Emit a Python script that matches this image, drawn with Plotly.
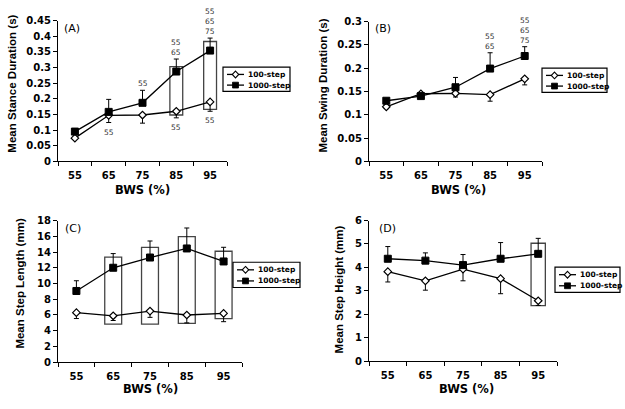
import plotly.graph_objects as go

# ---------------- data ----------------
bws = [55, 65, 75, 85, 95]
bws_labels = ["55", "65", "75", "85", "95"]
series_names = ["100-step", "1000-step"]

# (A) Mean stance duration (s)
stance_100 = [0.074, 0.147, 0.148, 0.160, 0.190]
stance_100_err = [0.003, 0.023, 0.026, 0.021, 0.030]
stance_1000 = [0.095, 0.158, 0.187, 0.287, 0.354]
stance_1000_err = [0.010, 0.040, 0.040, 0.040, 0.040]
stance_box_lo = [None, None, None, 0.148, 0.166]
stance_box_hi = [None, None, None, 0.303, 0.383]
stance_sig_above = ["", "", "55", "55<br>65", "55<br>65<br>75"]
stance_sig_below = ["", "55", "", "55", "55"]

# (B) Mean swing duration (s)
swing_100 = [0.117, 0.145, 0.146, 0.143, 0.177]
swing_100_err = [0.004, 0.004, 0.008, 0.014, 0.013]
swing_1000 = [0.130, 0.140, 0.159, 0.199, 0.226]
swing_1000_err = [0.004, 0.004, 0.021, 0.034, 0.020]
swing_box_lo = [None, None, None, None, None]
swing_box_hi = [None, None, None, None, None]
swing_sig_above = ["", "", "", "55<br>65", "55<br>65<br>75"]
swing_sig_below = ["", "", "", "", ""]

# (C) Mean step length (mm)
length_100 = [6.3, 5.9, 6.5, 6.0, 6.2]
length_100_err = [0.75, 0.6, 0.8, 1.0, 1.05]
length_1000 = [9.05, 12.0, 13.3, 14.45, 12.8]
length_1000_err = [1.3, 1.8, 2.1, 2.6, 1.8]
length_box_lo = [None, 4.85, 4.85, 4.93, 5.55]
length_box_hi = [None, 13.36, 14.6, 15.95, 14.1]
length_sig_above = ["", "", "", "", ""]
length_sig_below = ["", "", "", "", ""]

# (D) Mean step height (mm)
height_100 = [3.82, 3.43, 3.93, 3.52, 2.58]
height_100_err = [0.44, 0.40, 0.50, 0.64, 0.20]
height_1000 = [4.37, 4.29, 4.10, 4.37, 4.58]
height_1000_err = [0.52, 0.33, 0.45, 0.69, 0.66]
height_box_lo = [None, None, None, None, 2.37]
height_box_hi = [None, None, None, None, 5.03]
height_sig_above = ["", "", "", "", ""]
height_sig_below = ["", "", "", "", ""]

panel_labels = ["(A)", "(B)", "(C)", "(D)"]
y_titles = ["Mean Stance Duration (s)", "Mean Swing Duration (s)",
            "Mean Step Length (mm)", "Mean Step Height (mm)"]
x_title = "BWS (%)"
y_max = [0.45, 0.3, 18, 6]
y_step = [0.05, 0.05, 2, 1]

panels = [
    (stance_100, stance_100_err, stance_1000, stance_1000_err, stance_box_lo, stance_box_hi, stance_sig_above, stance_sig_below),
    (swing_100, swing_100_err, swing_1000, swing_1000_err, swing_box_lo, swing_box_hi, swing_sig_above, swing_sig_below),
    (length_100, length_100_err, length_1000, length_1000_err, length_box_lo, length_box_hi, length_sig_above, length_sig_below),
    (height_100, height_100_err, height_1000, height_1000_err, height_box_lo, height_box_hi, height_sig_above, height_sig_below),
]

# ---------------- layout geometry (pixels) ----------------
W, H = 625, 409
# plot boxes: (left, right, top, bottom)
boxes_px = [(58, 227, 15, 160), (369, 542, 16, 160), (58, 242, 221, 367), (369, 557, 221, 366)]
box_half = [1.9, 1.9, 2.3, 1.9]
ytitle_pos = [(12, 80), (323, 82), (20, 286), (339, 292)]
xtitle_pos = [(142, 190), (458, 190), (150, 395), (466, 395)]
plabel_pos = [(62, 14), (373, 14), (63, 220), (377, 220)]
# legend box: (left, top, width, height)
legend_box = [(223, 63, 67, 25), (542, 64, 65, 25), (233, 264, 67, 26), (555, 269, 65, 26)]

WIDE = "DejaVu Sans, Verdana, sans-serif"
NARROW = "Arial, Liberation Sans, sans-serif"


def px(xp):
    return xp / W


def py(yp):
    return 1 - yp / H


fig = go.Figure()
shapes = []
annotations = []

for i, (v100, e100, v1000, e1000, blo, bhi, sa, sb) in enumerate(panels):
    n = "" if i == 0 else str(i + 1)
    xa, ya = "x" + n, "y" + n
    fig.add_trace(go.Scatter(
        x=bws, y=v100, xaxis=xa, yaxis=ya, mode="lines+markers", name=series_names[0],
        line=dict(color="black", width=1.3),
        marker=dict(symbol="diamond", size=5.8, color="white", line=dict(color="black", width=1.2)),
        error_y=dict(type="data", symmetric=False, array=[0] * len(bws), arrayminus=e100,
                     color="black", thickness=1, width=2.5),
        showlegend=False))
    fig.add_trace(go.Scatter(
        x=bws, y=v1000, xaxis=xa, yaxis=ya, mode="lines+markers", name=series_names[1],
        line=dict(color="black", width=1.3),
        marker=dict(symbol="square", size=7, color="black", line=dict(color="black", width=1)),
        error_y=dict(type="data", symmetric=False, array=e1000, arrayminus=[0] * len(bws),
                     color="black", thickness=1, width=2.5),
        showlegend=False))

    # significance boxes and labels
    for k, xv in enumerate(bws):
        if blo[k] is not None:
            shapes.append(dict(type="rect", xref=xa, yref=ya,
                               x0=xv - box_half[i], x1=xv + box_half[i], y0=blo[k], y1=bhi[k],
                               line=dict(color="#444", width=1.3), fillcolor="rgba(0,0,0,0)", layer="below"))
        tops = [v1000[k] + e1000[k], v100[k]]
        if bhi[k] is not None:
            tops.append(bhi[k])
        bots = [v100[k] - e100[k], v1000[k]]
        if blo[k] is not None:
            bots.append(blo[k])
        if sa[k]:
            annotations.append(dict(x=xv, y=max(tops), xref=xa, yref=ya, text=sa[k], showarrow=False,
                                    yanchor="bottom", yshift=0,
                                    font=dict(family=WIDE, size=7.5, color="#333")))
        if sb[k]:
            annotations.append(dict(x=xv, y=min(bots), xref=xa, yref=ya, text=sb[k], showarrow=False,
                                    yanchor="top", yshift=-3,
                                    font=dict(family=WIDE, size=7.5, color="#333")))

    l, r, t, b = boxes_px[i]
    fig.layout["xaxis" + n] = dict(
        domain=[px(l), px(r)], range=[50, 100], anchor=ya, showline=True, linecolor="black", linewidth=1,
        tickvals=bws, ticktext=bws_labels, ticks="", showgrid=False, zeroline=False,
        tickfont=dict(family=WIDE, size=10, color="black", weight="bold"),
        minor=dict(tickmode="linear", tick0=50, dtick=10, ticks="outside", ticklen=4,
                   tickcolor="black", tickwidth=1, showgrid=False),
        ticklabelstandoff=5, fixedrange=True)
    fig.layout["yaxis" + n] = dict(
        domain=[py(b), py(t)], range=[0, y_max[i]], anchor=xa, showline=True, linecolor="black", linewidth=1,
        tickmode="linear", tick0=0, dtick=y_step[i], ticks="outside", ticklen=4, tickcolor="black",
        showgrid=False, zeroline=False,
        tickfont=dict(family=WIDE, size=10, color="black", weight="bold"), fixedrange=True)

    # axis titles
    yx, yy = ytitle_pos[i]
    annotations.append(dict(x=px(yx), y=py(yy), xref="paper", yref="paper", text=y_titles[i],
                            textangle=-90, showarrow=False, xanchor="center", yanchor="middle",
                            font=dict(family=NARROW, size=11.5, color="black", weight="bold")))
    xx, xy = xtitle_pos[i]
    annotations.append(dict(x=px(xx), y=py(xy), xref="paper", yref="paper", text=x_title,
                            showarrow=False, xanchor="center", yanchor="middle",
                            font=dict(family=WIDE, size=11.5, color="black", weight="bold")))
    px_, py_ = plabel_pos[i]
    annotations.append(dict(x=px(px_), y=py(py_), xref="paper", yref="paper", text=panel_labels[i],
                            showarrow=False, xanchor="left", yanchor="top",
                            font=dict(family=WIDE, size=11, color="black")))

    # legend (box, sample line + marker, label)
    L, T, LW, LH = legend_box[i]
    shapes.append(dict(type="rect", xref="paper", yref="paper",
                       x0=px(L), x1=px(L + LW), y0=py(T + LH), y1=py(T),
                       line=dict(color="black", width=1.2), fillcolor="white", layer="above"))
    rows = [T + LH * 0.3, T + LH * 0.74]
    for j, ry in enumerate(rows):
        shapes.append(dict(type="line", xref="paper", yref="paper",
                           x0=px(L + 4), x1=px(L + 21), y0=py(ry), y1=py(ry),
                           line=dict(color="black", width=1.3), layer="above"))
        cx = L + 12.5
        if j == 0:
            path = "M {:.5f},{:.5f} L {:.5f},{:.5f} L {:.5f},{:.5f} L {:.5f},{:.5f} Z".format(
                px(cx), py(ry - 3.5), px(cx + 3.2), py(ry), px(cx), py(ry + 3.5), px(cx - 3.2), py(ry))
            shapes.append(dict(type="path", xref="paper", yref="paper", path=path,
                               line=dict(color="black", width=1.1), fillcolor="white", layer="above"))
        else:
            shapes.append(dict(type="rect", xref="paper", yref="paper",
                               x0=px(cx - 3), x1=px(cx + 3), y0=py(ry + 3), y1=py(ry - 3),
                               line=dict(color="black", width=0.8), fillcolor="black", layer="above"))
        annotations.append(dict(x=px(L + 23), y=py(ry), xref="paper", yref="paper",
                                text=series_names[j], showarrow=False, xanchor="left", yanchor="middle",
                                font=dict(family=WIDE, size=7.5, color="black", weight="bold")))

fig.update_layout(
    width=W, height=H, margin=dict(l=0, r=0, t=0, b=0),
    paper_bgcolor="white", plot_bgcolor="white",
    shapes=shapes, annotations=annotations, showlegend=False)

# remove the default page margin so the figure sits at the window's top-left corner
fig.write_html("out.html", config={"displayModeBar": False},
               post_script="document.body.style.margin='0px';document.body.style.overflow='hidden';")
